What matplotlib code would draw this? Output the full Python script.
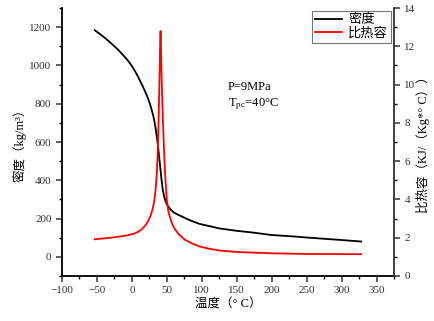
import matplotlib
matplotlib.use("Agg")
import matplotlib.pyplot as plt
from matplotlib.ticker import MultipleLocator

plt.rcParams["font.family"] = ["Liberation Serif", "Noto Sans CJK SC"]
plt.rcParams["mathtext.fontset"] = "stix"

# density vs temperature
t_rho = [-53, -40, -31, -20, -8, -4, 0, 4, 8, 11, 15, 20, 23, 26, 28, 30, 32,
         34, 36, 38, 40, 42, 44, 46, 48, 50, 52, 56, 60, 66, 73, 85, 97, 126,
         150, 173, 200, 230, 250, 269, 300, 328]
rho = [1184, 1148, 1120, 1083, 1036, 1017, 997, 973, 947, 925, 895, 855, 828,
       797, 772, 745, 712, 670, 618, 556, 488, 415, 355, 318, 292, 275, 262,
       245, 232, 220, 208, 188, 172, 148, 136, 127, 114, 107, 101, 96, 88, 80]

# specific heat vs temperature
t_cp = [-53, -30, -10, 0, 5, 10, 15, 20, 24, 27, 30, 32, 34, 35.5, 36.5,
        37.5, 38.5, 39.5, 40.2, 41, 41.8, 42.5, 43.5, 44.5, 45.5, 46.5, 47.5,
        48.5, 50, 52, 55, 58, 62, 67, 76, 85, 97, 110, 126, 145, 160, 197,
        250, 328]
cp = [1.92, 2.0, 2.1, 2.18, 2.24, 2.33, 2.47, 2.68, 2.92, 3.18, 3.55, 3.95,
      4.55, 5.3, 6.1, 7.2, 8.6, 10.4, 11.8, 12.8, 11.6, 10.4, 9.1, 8.0, 7.0,
      6.1, 5.35, 4.75, 3.95, 3.4, 3.0, 2.68, 2.42, 2.18, 1.89, 1.72, 1.54,
      1.43, 1.33, 1.27, 1.24, 1.19, 1.15, 1.14]

fig = plt.figure(figsize=(4.34, 3.21), dpi=100)
ax = fig.add_axes([0.1429, 0.1402, 0.7649, 0.8348])
ax2 = ax.twinx()

l1, = ax.plot(t_rho, rho, color="black", lw=1.3, label="密度")
l2, = ax2.plot(t_cp, cp, color="red", lw=1.3, label="比热容")

ax.set_xlim(-100, 375)
ax.set_ylim(-100, 1300)
ax2.set_ylim(0, 14)

ax.xaxis.set_major_locator(MultipleLocator(50))
ax.xaxis.set_minor_locator(MultipleLocator(25))
ax.yaxis.set_major_locator(MultipleLocator(200))
ax.yaxis.set_minor_locator(MultipleLocator(100))
ax2.yaxis.set_major_locator(MultipleLocator(2))
ax2.yaxis.set_minor_locator(MultipleLocator(1))

for a in (ax, ax2):
    a.spines["top"].set_visible(False)
    for s in a.spines.values():
        s.set_linewidth(1.3)
    a.tick_params(which="major", direction="out", length=4, width=1.1,
                  labelsize=8, colors="#333333")
    a.tick_params(which="minor", direction="out", length=2.5, width=1.0)
ax.spines["right"].set_visible(False)
ax2.spines["left"].set_visible(False)
ax2.spines["bottom"].set_visible(False)
ax2.spines["right"].set_color("#333333")

ax.set_xlabel("温度（° C）", fontsize=9, labelpad=2)
ax.set_ylabel("密度（kg/m³）", fontsize=9, labelpad=2)
ax2.set_ylabel("比热容（KJ/（Kg*° C））", fontsize=9, labelpad=0,
               rotation=90)

fig.text(228 / 434, 1 - 87 / 321, "P=9MPa", fontsize=9, va="center")
fig.text(228 / 434, 1 - 104 / 321, "T$_{\\rm pc}$=40°C", fontsize=9,
         va="center")

leg = ax.legend(handles=[l1, l2], loc="upper right", fontsize=9.5,
                frameon=True, fancybox=False, borderpad=0.25,
                handlelength=2.0, labelspacing=0.05, handletextpad=0.5,
                borderaxespad=0.2)
leg.get_frame().set_edgecolor("#555555")
leg.get_frame().set_linewidth(0.8)

fig.savefig("out.png", dpi=100)
